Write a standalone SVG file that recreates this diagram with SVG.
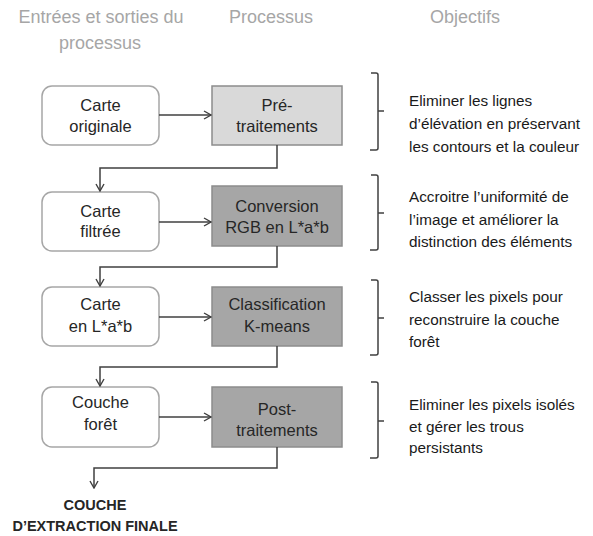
<svg xmlns="http://www.w3.org/2000/svg" width="593" height="536" viewBox="0 0 593 536">
<defs>
<marker id="arr" viewBox="0 0 10 10" refX="9" refY="5" markerWidth="10" markerHeight="10" markerUnits="userSpaceOnUse" orient="auto">
<path d="M2,1 L9,5 L2,9" fill="none" stroke="#404040" stroke-width="1.4"/>
</marker>
<style>
.hdr{font-family:"Liberation Sans",Arial,sans-serif;font-size:18px;fill:#a6a6a6;text-anchor:middle}
.io{fill:#ffffff;stroke:#a6a6a6;stroke-width:1.5}
.p1{fill:#d9d9d9;stroke:#8c8c8c;stroke-width:1.5}
.p2{fill:#a6a6a6;stroke:#8c8c8c;stroke-width:1.5}
.bt{font-family:"Liberation Sans",Arial,sans-serif;font-size:16.5px;fill:#262626;text-anchor:middle}
.ob{font-family:"Liberation Sans",Arial,sans-serif;font-size:15.3px;fill:#1a1a1a}
.fin{font-family:"Liberation Sans",Arial,sans-serif;font-size:14.5px;font-weight:bold;fill:#262626;text-anchor:middle}
.con{fill:none;stroke:#404040;stroke-width:1.5}
.br{fill:none;stroke:#404040;stroke-width:1.5}
</style>
</defs>
<rect width="593" height="536" fill="#ffffff"/>
<g id="headers">
<text class="hdr" x="101" y="23">Entrées et sorties du</text>
<text class="hdr" x="100" y="49">processus</text>
<text class="hdr" x="271" y="23">Processus</text>
<text class="hdr" x="465" y="23">Objectifs</text>
</g>
<g id="io1"><rect class="io" x="42" y="86" width="117" height="59" rx="10"/><text class="bt" x="100.5" y="111">Carte</text><text class="bt" x="100.5" y="132">originale</text></g>
<g id="p1"><rect class="p1" x="212" y="86" width="130" height="59"/><text class="bt" x="277" y="111">Pré-</text><text class="bt" x="277" y="132">traitements</text></g>
<g id="io2"><rect class="io" x="42" y="192" width="117" height="59" rx="10"/><text class="bt" x="100.5" y="217">Carte</text><text class="bt" x="100.5" y="237">filtrée</text></g>
<g id="p2"><rect class="p2" x="212" y="186" width="130" height="60"/><text class="bt" x="277" y="212">Conversion</text><text class="bt" x="277" y="233">RGB en L*a*b</text></g>
<g id="io3"><rect class="io" x="42" y="287" width="117" height="59" rx="10"/><text class="bt" x="100.5" y="310">Carte</text><text class="bt" x="100.5" y="332">en L*a*b</text></g>
<g id="p3"><rect class="p2" x="212" y="287" width="130" height="59"/><text class="bt" x="277" y="310">Classification</text><text class="bt" x="277" y="332">K-means</text></g>
<g id="io4"><rect class="io" x="42" y="387" width="117" height="60" rx="10"/><text class="bt" x="100.5" y="408">Couche</text><text class="bt" x="100.5" y="430">forêt</text></g>
<g id="p4"><rect class="p2" x="212" y="387" width="130" height="60"/><text class="bt" x="277" y="415">Post-</text><text class="bt" x="277" y="436">traitements</text></g>
<g id="final"><text class="fin" x="95" y="510">COUCHE</text><text class="fin" x="95" y="531">D’EXTRACTION FINALE</text></g>
<g id="connectors">
<path class="con" d="M159,115 L211,115" marker-end="url(#arr)"/>
<path class="con" d="M159,222 L211,222" marker-end="url(#arr)"/>
<path class="con" d="M159,317 L211,317" marker-end="url(#arr)"/>
<path class="con" d="M159,417 L211,417" marker-end="url(#arr)"/>
<path class="con" d="M277,145 L277,168 L100,168 L100,191" marker-end="url(#arr)"/>
<path class="con" d="M277,246 L277,267 L100,267 L100,286" marker-end="url(#arr)"/>
<path class="con" d="M277,346 L277,367 L100,367 L100,386" marker-end="url(#arr)"/>
<path class="con" d="M277,447 L277,468 L94,468 L94,488" marker-end="url(#arr)"/>
</g>
<g id="brackets">
<path class="br" d="M371,73 L376,73 Q378,73 378,75 L378,111 L384,111 M378,111 L378,148 Q378,150 376,150 L370,150"/>
<path class="br" d="M371,175 L376,175 Q378,175 378,177 L378,213 L384,213 M378,213 L378,248 Q378,250 376,250 L370,250"/>
<path class="br" d="M371,280 L376,280 Q378,280 378,282 L378,318 L384,318 M378,318 L378,353 Q378,355 376,355 L370,355"/>
<path class="br" d="M371,382 L376,382 Q378,382 378,384 L378,421 L384,421 M378,421 L378,456 Q378,458 376,458 L370,458"/>
</g>
<g id="objectifs">
<text class="ob" x="409" y="106">Eliminer les lignes</text>
<text class="ob" x="409" y="129">d’élévation en préservant</text>
<text class="ob" x="409" y="152">les contours et la couleur</text>
<text class="ob" x="409" y="202">Accroitre l’uniformité de</text>
<text class="ob" x="409" y="225">l’image et améliorer la</text>
<text class="ob" x="409" y="247">distinction des éléments</text>
<text class="ob" x="409" y="302">Classer les pixels pour</text>
<text class="ob" x="409" y="325">reconstruire la couche</text>
<text class="ob" x="409" y="347">forêt</text>
<text class="ob" x="409" y="410">Eliminer les pixels isolés</text>
<text class="ob" x="409" y="432">et gérer les trous</text>
<text class="ob" x="409" y="453">persistants</text>
</g>
</svg>
